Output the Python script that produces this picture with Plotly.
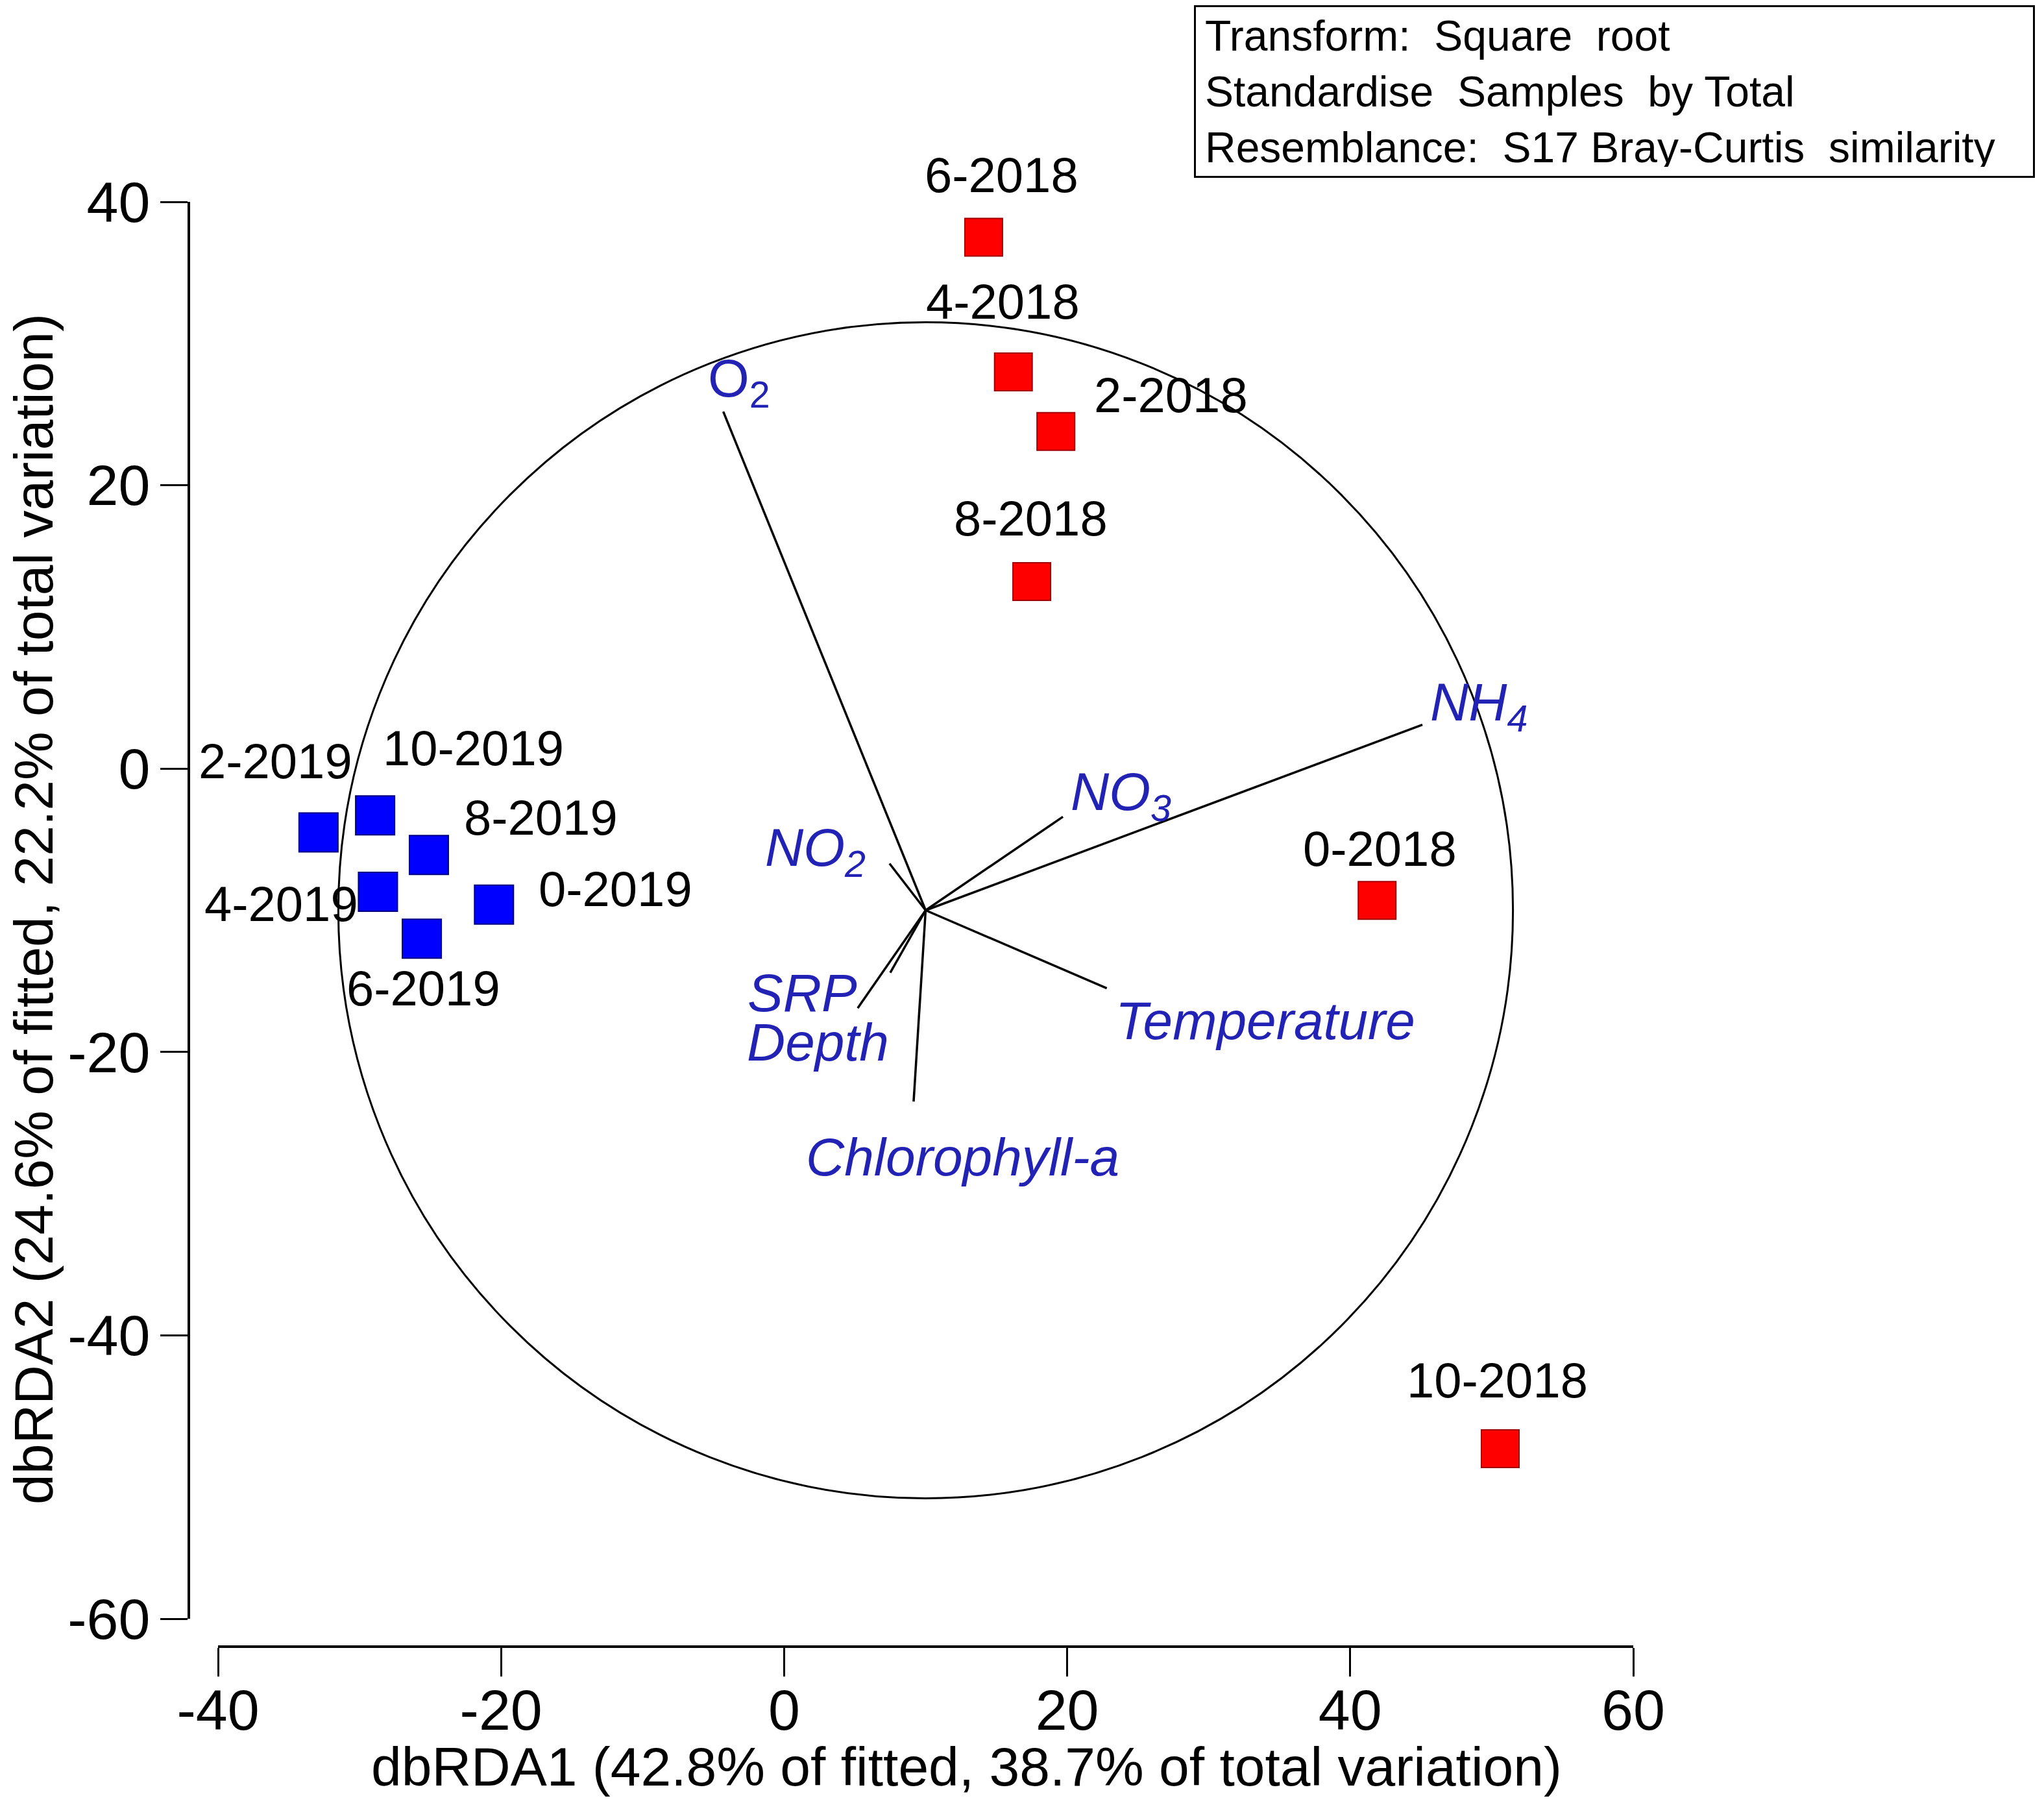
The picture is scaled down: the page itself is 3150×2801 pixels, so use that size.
import plotly.graph_objects as go

# ---------------- data ----------------
samples_2018 = ["6-2018", "4-2018", "2-2018", "8-2018", "0-2018", "10-2018"]
x_2018 = [14.1, 16.2, 19.2, 17.5, 41.9, 50.6]
y_2018 = [37.5, 28.0, 23.8, 13.2, -9.3, -48.0]

samples_2019 = ["2-2019", "10-2019", "8-2019", "4-2019", "6-2019", "0-2019"]
x_2019 = [-32.9, -28.9, -25.1, -28.7, -25.6, -20.5]
y_2019 = [-4.5, -3.3, -6.1, -8.7, -12.0, -9.6]

vector_names = ["O<sub>2</sub>", "<i>NH<sub>4</sub></i>", "<i>NO<sub>3</sub></i>",
                "<i>NO<sub>2</sub></i>", "<i>SRP</i>", "<i>Depth</i>",
                "<i>Temperature</i>", "<i>Chlorophyll-a</i>"]
vector_origin = (10.0, -10.0)
vector_end_x = [-4.3, 45.1, 19.7, 7.45, 5.2, 7.5, 22.8, 9.15]
vector_end_y = [25.2, 3.1, -3.4, -6.7, -16.9, -14.4, -15.5, -23.5]
vector_label_x = [-3.2, 49.1, 23.8, 2.2, 1.3, 2.4, 34.0, 12.6]
vector_label_y = [27.3, 4.45, -1.9, -5.85, -15.8, -19.3, -17.8, -27.4]

circle_center = (10.0, -10.0)
circle_radius = 41.5

x_ticks = [-40, -20, 0, 20, 40, 60]
y_ticks = [-60, -40, -20, 0, 20, 40]
x_tick_labels = ["-40", "-20", "0", "20", "40", "60"]
y_tick_labels = ["-60", "-40", "-20", "0", "20", "40"]

x_title = "dbRDA1 (42.8% of fitted, 38.7% of total variation)"
y_title = "dbRDA2 (24.6% of fitted, 22.2% of total variation)"
info_lines = ["Transform:\u00a0 Square\u00a0 root",
              "Standardise\u00a0 Samples\u00a0 by Total",
              "Resemblance:\u00a0 S17 Bray-Curtis\u00a0 similarity"]

# ---------------- style ----------------
W, H = 3150, 2801
FONT = "Liberation Sans, Arial, sans-serif"
VEC_COLOR = "#2222b4"
label_shift_2018 = [(28, 96), (-16, 108), (177, 56), (-2, 98), (4, 80), (-4, 106)]
label_shift_2019 = [(-66, 110), (151, 104), (173, 58), (-149, -18), (2, -76), (187, 24)]

fig = go.Figure()

# circle
fig.add_shape(type="circle", xref="x", yref="y",
              x0=circle_center[0] - circle_radius, x1=circle_center[0] + circle_radius,
              y0=circle_center[1] - circle_radius, y1=circle_center[1] + circle_radius,
              line=dict(color="black", width=3), layer="below")

# vectors
vx, vy = [], []
for ex, ey in zip(vector_end_x, vector_end_y):
    vx += [vector_origin[0], ex, None]
    vy += [vector_origin[1], ey, None]
fig.add_trace(go.Scatter(x=vx, y=vy, mode="lines",
                         line=dict(color="black", width=3.5),
                         hoverinfo="skip", showlegend=False))

# samples
fig.add_trace(go.Scatter(x=x_2018, y=y_2018, mode="markers",
                         marker=dict(symbol="square", size=58, color="#ff0000",
                                     line=dict(color="#a00000", width=2)),
                         showlegend=False, cliponaxis=False))
fig.add_trace(go.Scatter(x=x_2019, y=y_2019, mode="markers",
                         marker=dict(symbol="square", size=60, color="#0000ff",
                                     line=dict(color="#000080", width=2)),
                         showlegend=False, cliponaxis=False))

annotations = []
for names, xs, ys, shifts in [(samples_2018, x_2018, y_2018, label_shift_2018),
                              (samples_2019, x_2019, y_2019, label_shift_2019)]:
    for n, x, y, (dx, dy) in zip(names, xs, ys, shifts):
        annotations.append(dict(x=x, y=y, xref="x", yref="y", text=n, showarrow=False,
                                xshift=dx, yshift=dy, xanchor="center", yanchor="middle",
                                font=dict(family=FONT, size=76, color="black")))

for n, x, y in zip(vector_names, vector_label_x, vector_label_y):
    annotations.append(dict(x=x, y=y, xref="x", yref="y", text=n, showarrow=False,
                            xanchor="center", yanchor="middle",
                            font=dict(family=FONT, size=82, color=VEC_COLOR)))

# axis titles
annotations.append(dict(x=1489 / W, y=1 - 2722 / H, xref="paper", yref="paper",
                        text=x_title, showarrow=False, xanchor="center", yanchor="middle",
                        font=dict(family=FONT, size=84, color="black")))
annotations.append(dict(x=52 / W, y=1 - 1401 / H, xref="paper", yref="paper",
                        text=y_title, showarrow=False, textangle=-90,
                        xanchor="center", yanchor="middle",
                        font=dict(family=FONT, size=84, color="black")))

# info box
annotations.append(dict(x=1840 / W, y=1 - 8 / H, xref="paper", yref="paper",
                        text="<br>".join(info_lines), showarrow=False,
                        xanchor="left", yanchor="top", align="left", valign="middle",
                        width=1262, height=232, borderpad=14,
                        bordercolor="black", borderwidth=3, bgcolor="white",
                        font=dict(family=FONT, size=66, color="black")))

fig.update_layout(
    template="none",
    width=W, height=H,
    margin=dict(l=0, r=0, t=0, b=0, pad=0, autoexpand=False),
    paper_bgcolor="white", plot_bgcolor="white",
    font=dict(family=FONT, color="black"),
    annotations=annotations,
    xaxis=dict(domain=[336 / W, 2517 / W], range=[-40, 60],
               tickmode="array", tickvals=x_ticks, ticktext=x_tick_labels,
               ticks="outside", ticklen=44, tickwidth=2.5, tickcolor="black",
               showline=True, linewidth=4, linecolor="black",
               showgrid=False, zeroline=False, anchor="free", automargin=False,
               position=(H - 2537) / H, ticklabelstandoff=-24,
               tickfont=dict(family=FONT, size=88, color="black")),
    yaxis=dict(domain=[(H - 2494) / H, (H - 311) / H], range=[-60, 40],
               tickmode="array", tickvals=y_ticks, ticktext=y_tick_labels,
               ticks="outside", ticklen=42, tickwidth=2.5, tickcolor="black",
               showline=True, linewidth=4, linecolor="black",
               showgrid=False, zeroline=False, anchor="free", automargin=False,
               position=291 / W, ticklabelstandoff=-2,
               tickfont=dict(family=FONT, size=88, color="black")),
)

fig.write_html("out.html", config={"displayModeBar": False},
               post_script="document.body.style.margin='0px';")
